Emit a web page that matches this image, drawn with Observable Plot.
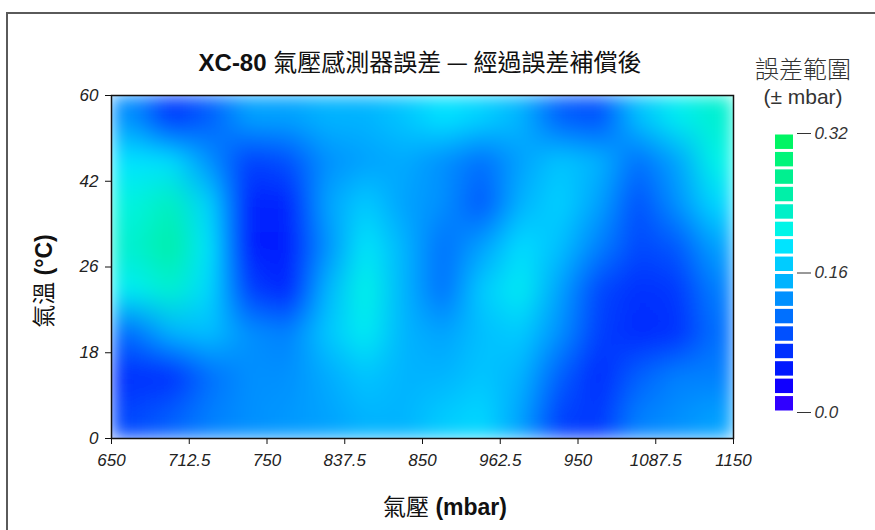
<!DOCTYPE html>
<html>
<head>
<meta charset="utf-8">
<script src="https://cdn.jsdelivr.net/npm/d3@7"></script>
<script src="https://cdn.jsdelivr.net/npm/@observablehq/plot@0.6"></script>
<style>
  html, body { margin: 0; padding: 0; background: #fff; }
  #wrap { position: relative; width: 875px; height: 530px; overflow: hidden;
    font-family: "Liberation Sans", Arial, "Noto Sans CJK TC", sans-serif; }
  #border { position: absolute; left: 6px; top: 12px; width: 900px; height: 600px;
    border-left: 2px solid #5a5a5a; border-top: 2px solid #5a5a5a; }
  .abs { position: absolute; white-space: nowrap; }
  .cjk { font-weight: normal; font-family: "Noto Sans CJK TC", sans-serif; }
  #title { left: 420px; top: 60px; transform: translate(-50%, -50%); font-size: 24px; font-weight: bold; color: #111; }
  #xlabel { left: 445px; top: 505px; transform: translate(-50%, -50%); font-size: 23px; font-weight: bold; color: #111; }
  #ylabel { left: 42px; top: 281px; transform: translate(-50%, -50%) rotate(-90deg); font-size: 23px; font-weight: bold; color: #111; }
  #ltitle { left: 803px; top: 82px; transform: translate(-50%, -50%); font-size: 21px; color: #333; text-align: center; line-height: 26px; }
  #ltitle .l1 { font-size: 24px; font-weight: 300; }
  #main { position: absolute; left: 0; top: 0; }
  #legend { position: absolute; left: 760px; top: 0; }
  svg text { font-style: italic; }
</style>
</head>
<body>
<div id="wrap">
  <div id="border"></div>
  <div id="main"></div>
  <div id="legend"></div>
  <div class="abs" id="title">XC-80 <span class="cjk">氣壓感測器誤差 — 經過誤差補償後</span></div>
  <div class="abs" id="xlabel"><span class="cjk">氣壓</span> (mbar)</div>
  <div class="abs" id="ylabel"><span class="cjk">氣溫</span> (°C)</div>
  <div class="abs" id="ltitle"><span class="l1 cjk">誤差範圍</span><br>(± mbar)</div>
</div>
<script>
// Tick labels
const xLabels = ["650", "712.5", "750", "837.5", "850", "962.5", "950", "1087.5", "1150"];
const yLabels = ["0", "18", "26", "42", "60"];

// Error grid (± mbar), rows from top (60 °C) to bottom (0 °C), 16 columns left to right
const row1 = [0.12, 0.065, 0.09, 0.13, 0.13, 0.14, 0.14, 0.155, 0.18, 0.165, 0.14, 0.09, 0.08, 0.15, 0.19, 0.215];
const row2 = [0.18, 0.175, 0.12, 0.07, 0.08, 0.12, 0.13, 0.135, 0.12, 0.10, 0.13, 0.155, 0.14, 0.10, 0.13, 0.20];
const row3 = [0.205, 0.225, 0.165, 0.05, 0.05, 0.13, 0.16, 0.13, 0.12, 0.085, 0.14, 0.165, 0.13, 0.08, 0.12, 0.17];
const row4 = [0.215, 0.24, 0.18, 0.045, 0.045, 0.12, 0.185, 0.14, 0.10, 0.13, 0.175, 0.15, 0.11, 0.075, 0.085, 0.13];
const row5 = [0.19, 0.215, 0.17, 0.07, 0.05, 0.14, 0.20, 0.14, 0.10, 0.16, 0.19, 0.13, 0.075, 0.06, 0.065, 0.11];
const row6 = [0.10, 0.14, 0.15, 0.12, 0.11, 0.155, 0.19, 0.14, 0.13, 0.15, 0.16, 0.12, 0.07, 0.055, 0.06, 0.10];
const row7 = [0.06, 0.06, 0.10, 0.12, 0.12, 0.135, 0.155, 0.14, 0.14, 0.155, 0.14, 0.09, 0.055, 0.09, 0.11, 0.11];
const row8 = [0.075, 0.09, 0.11, 0.12, 0.125, 0.13, 0.14, 0.14, 0.16, 0.17, 0.13, 0.07, 0.065, 0.11, 0.12, 0.13];

// Legend bins and colours (bottom to top)
const legendEdges = [0, 0.02, 0.04, 0.06, 0.08, 0.10, 0.12, 0.14, 0.16, 0.18, 0.20, 0.22, 0.24, 0.26, 0.28, 0.30, 0.32];
const legendColors = ["#3000ff", "#1000ff", "#0018ff", "#0030ff", "#0050ff", "#0070ff", "#0090ff", "#00b4ff",
                      "#00ccff", "#00e4ff", "#00f5e8", "#00f0c8", "#00f0a8", "#00f090", "#00f57a", "#00f564"];
const legendTicks = [0, 0.16, 0.32];
const legendTickLabels = ["0.0", "0.16", "0.32"];

const grid = [row1, row2, row3, row4, row5, row6, row7, row8];
const gridWidth = row1.length, gridHeight = grid.length;
const values = grid.flat();

const colorOpts = {
  type: "linear",
  domain: [legendEdges[0], legendEdges[legendEdges.length - 2]],
  interpolate: d3.piecewise(d3.interpolateRgb, legendColors),
  clamp: true
};

const fontFamily = '"Liberation Sans", Arial, "Noto Sans CJK TC", sans-serif';

const chart = Plot.plot({
  width: 760, height: 530,
  marginLeft: 111, marginRight: 27, marginTop: 95, marginBottom: 92,
  x: {domain: [0, xLabels.length - 1]},
  y: {domain: [0, yLabels.length - 1]},
  color: colorOpts,
  style: {fontFamily, fontSize: "17px", color: "#222", background: "transparent", overflow: "visible"},
  marks: [
    Plot.raster(values, {
      width: gridWidth, height: gridHeight,
      x1: 0, x2: xLabels.length - 1, y1: yLabels.length - 1, y2: 0,
      fill: d => d, clip: true
    }),
    Plot.frame({stroke: "#111", strokeWidth: 1.5}),
    Plot.axisX({ticks: xLabels.map((_, i) => i), tickFormat: i => xLabels[i], tickSize: 6, tickPadding: 9,
      label: null, stroke: "#111", fontSize: 17, fill: "#222"}),
    Plot.axisY({ticks: yLabels.map((_, i) => i), tickFormat: i => yLabels[i], tickSize: 6, tickPadding: 7,
      label: null, stroke: "#111", fontSize: 17, fill: "#222"})
  ]
});

// soft Gaussian smoothing of the raster image (fades into white at the edges)
const svgSel = d3.select(chart);
const defs = svgSel.insert("defs", ":first-child");
defs.append("filter").attr("id", "soften")
  .attr("x", "-10%").attr("y", "-10%").attr("width", "120%").attr("height", "120%")
  .append("feGaussianBlur").attr("stdDeviation", 9);
svgSel.select('g[aria-label="raster"] image').attr("filter", "url(#soften)");

document.getElementById("main").appendChild(chart);

const legend = Plot.plot({
  width: 115, height: 530,
  marginLeft: 15, marginRight: 79, marginTop: 133, marginBottom: 118,
  y: {domain: [legendEdges[0], legendEdges[legendEdges.length - 1]]},
  color: colorOpts,
  style: {fontFamily, fontSize: "17px", color: "#333", background: "transparent", overflow: "visible"},
  marks: [
    Plot.rect(d3.pairs(legendEdges), {y1: d => d[0], y2: d => d[1], fill: d => d[0], insetTop: 1.5, insetBottom: 1.5, insetRight: 3}),
    Plot.axisY({anchor: "right", ticks: legendTicks, tickFormat: (d, i) => legendTickLabels[i], tickSize: 14, tickPadding: 4,
      label: null, fontSize: 17, fill: "#333"})
  ]
});
document.getElementById("legend").appendChild(legend);
</script>
</body>
</html>
